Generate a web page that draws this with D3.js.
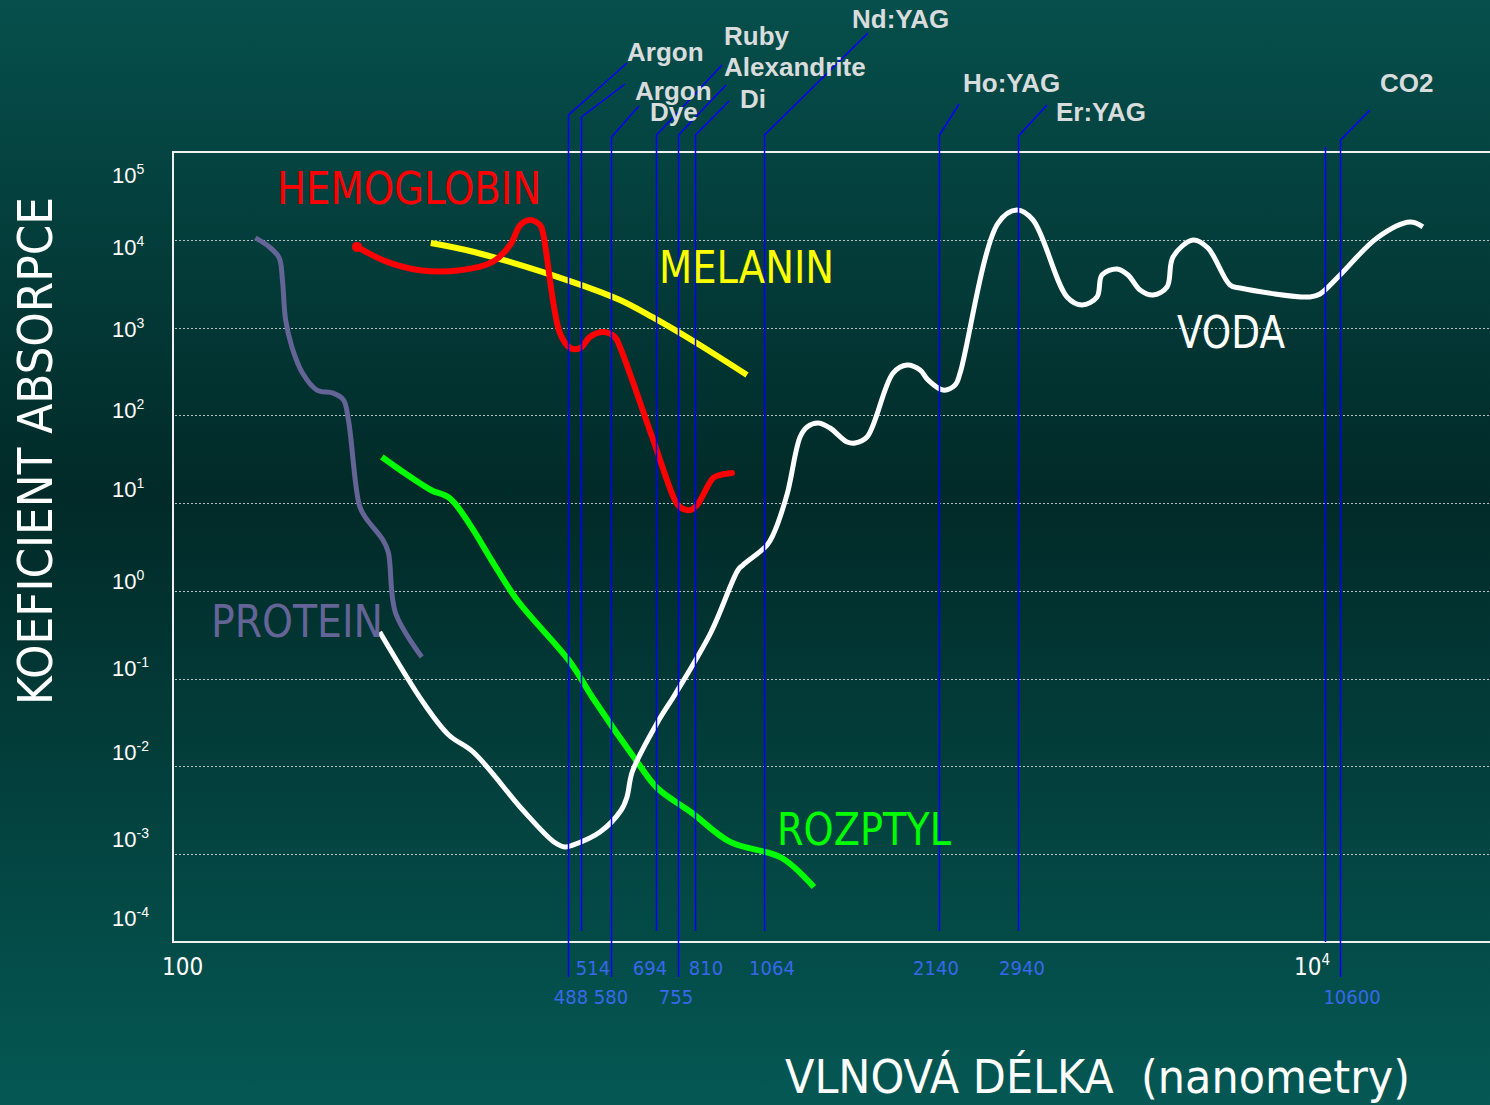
<!DOCTYPE html>
<html>
<head>
<meta charset="utf-8">
<script src="https://cdn.jsdelivr.net/npm/d3@7"></script>
<style>
  body { margin: 0; background: #033b39; }
  svg { display: block; }
  .pre { white-space: pre; }
</style>
</head>
<body>
<script>
// Data (wavelength in nm, absorption coefficient)
const yDecades = [-4, -3, -2, -1, 0, 1, 2, 3, 4, 5];
const gridDecades = [-3, -2, -1, 0, 1, 2, 3, 4];

const laserNames = ['Argon', 'Argon', 'Dye', 'Ruby', 'Alexandrite', 'Di', 'Nd:YAG', 'Ho:YAG', 'Er:YAG', 'CO2'];
const laserNm = [488, 514, 580, 694, 755, 810, 1064, 2140, 2940, 10600];

const proteinNm = [140, 148, 154, 156, 158, 162, 169, 179, 191, 199, 203, 212, 217, 233, 238, 245, 272];
const proteinAbs = [1.05e4, 8.3e3, 6.2e3, 3.5e3, 1.22e3, 600, 303, 194, 179, 150, 88.5, 9.5, 6.95, 3.8, 2.77, 0.56, 0.177];

const hemoglobinNm = [210, 237, 270, 317, 361, 387, 403, 419, 436, 441, 472, 492, 512, 532, 561, 588, 600, 685, 747, 762, 794, 816, 870, 894, 938];
const hemoglobinAbs = [8.3e3, 5.6e3, 4.5e3, 4.5e3, 5.6e3, 8.7e3, 1.47e4, 1.68e4, 1.47e4, 1.22e4, 867, 585, 585, 780, 889, 780, 600, 52.4, 10.8, 9.03, 8.34, 9.5, 19.3, 20.9, 22.0];

const melaninNm = [282, 334, 497, 600, 682, 809, 996];
const melaninAbs = [9.2e3, 7.3e3, 3.3e3, 2.06e3, 1.32e3, 684, 288];

const scatterNm = [232, 254, 282, 304, 330, 361, 398, 493, 537, 645, 696, 800, 931, 1145, 1301];
const scatterAbs = [33.5, 22, 14.1, 11.4, 5.62, 2.13, 0.787, 0.151, 0.0618, 0.0109, 0.00568, 0.00295, 0.00138, 0.000906, 0.000423];

const waterNm = [230, 274, 303, 334, 407, 461, 482, 497, 554, 603, 617, 630, 696, 750, 863, 961, 980, 1079, 1105, 1168,
  1231, 1266, 1322, 1387, 1485, 1533, 1608, 1784, 1886, 1987, 2051, 2178, 2285, 2331, 2713, 2925, 3118, 3572, 3793, 4026,
  4107, 4361, 4557, 4780, 5034, 5323, 5452, 5904, 6268, 6845, 7123, 9419, 9800, 10620, 12310, 14040, 14780];
const waterAbs = [0.34, 0.0528, 0.0228, 0.0146, 0.00319, 0.00138, 0.00121, 0.00127, 0.00179, 0.00319, 0.00449, 0.00865, 0.0313, 0.0687, 0.34, 1.73, 1.97, 3.33, 4.33, 12.4,
  56.6, 73.6, 81.7, 71.7, 49.7, 48.4, 56.6, 303, 374, 328, 253, 194, 221, 303, 1.55e4, 2.18e4, 1.68e4, 2.23e3, 1.81e3, 2.23e3,
  3.97e3, 4.65e3, 3.97e3, 2.68e3, 2.35e3, 2.9e3, 6.37e3, 9.93e3, 8.05e3, 3.06e3, 2.82e3, 2.23e3, 2.41e3, 3.97e3, 1.05e4, 1.59e4, 1.4e4];

// Layout: baselines of the y tick labels (for yDecades), in pixels
const yLabelBaselines = [926, 847, 760, 676, 589, 497, 418, 337, 255, 183];

// Layout of the laser annotations: leader kink/tip, name position, wavelength label
const leaderLayout = [
  { row: 1, kinkY: 115, tipX: 627, tipY: 63, textX: 627, textY: 61, nmX: 571 },
  { row: 0, kinkY: 117, tipX: 625, tipY: 84, textX: 635, textY: 100, nmX: 593 },
  { row: 1, kinkY: 137, tipX: 639, tipY: 106, textX: 650, textY: 121, nmX: 611 },
  { row: 0, kinkY: 135, tipX: 722, tipY: 65, textX: 724, textY: 45, nmX: 650 },
  { row: 1, kinkY: 135, tipX: 726, tipY: 85, textX: 724, textY: 76, nmX: 676 },
  { row: 0, kinkY: 135, tipX: 729, tipY: 101, textX: 740, textY: 108, nmX: 706 },
  { row: 0, kinkY: 135, tipX: 868, tipY: 33, textX: 852, textY: 28, nmX: 772 },
  { row: 0, kinkY: 135, tipX: 959, tipY: 104, textX: 963, textY: 92, nmX: 936 },
  { row: 0, kinkY: 136, tipX: 1047, tipY: 105, textX: 1056, textY: 121, nmX: 1022 },
  { row: 1, kinkY: 140, tipX: 1370, tipY: 110, textX: 1380, textY: 92, nmX: 1352 }
];

const W = 1490, H = 1105;
const plotLeft = 173, plotTop = 152, plotBottom = 942;

const x = d3.scaleLog().domain([100, 10000]).range([171, 1325]);
const y = d3.scaleLog().domain([1e-4, 1e5]).range([plotBottom, plotTop]);

const svg = d3.select('body').append('svg')
  .attr('width', W)
  .attr('height', H);

// Background gradient
const grad = svg.append('defs').append('linearGradient')
  .attr('id', 'bg')
  .attr('x1', 0).attr('y1', 0).attr('x2', 0).attr('y2', 1);
grad.append('stop').attr('offset', '0%').attr('stop-color', '#064f4c');
grad.append('stop').attr('offset', '45%').attr('stop-color', '#012a28');
grad.append('stop').attr('offset', '100%').attr('stop-color', '#055854');

svg.append('rect')
  .attr('width', W)
  .attr('height', H)
  .attr('fill', 'url(#bg)');

// Dotted grid
svg.append('g')
  .selectAll('line')
  .data(gridDecades)
  .enter()
  .append('line')
  .attr('x1', plotLeft + 2)
  .attr('x2', W)
  .attr('y1', d => Math.round(y(Math.pow(10, d))) + 0.5)
  .attr('y2', d => Math.round(y(Math.pow(10, d))) + 0.5)
  .attr('stroke', '#b8c4c4')
  .attr('stroke-width', 1)
  .attr('stroke-dasharray', '2,2');

// Plot frame
svg.append('path')
  .attr('d', `M${W + 5},${plotTop} H${plotLeft} V${plotBottom} H${W + 5}`)
  .attr('fill', 'none')
  .attr('stroke', '#f0f0f0')
  .attr('stroke-width', 2);

// Y tick labels
const yt = svg.append('g')
  .attr('font-family', 'Liberation Sans, Arial, sans-serif')
  .attr('fill', '#ffffff')
  .selectAll('text')
  .data(yDecades)
  .enter()
  .append('text')
  .attr('x', 112)
  .attr('y', (d, i) => yLabelBaselines[i])
  .attr('font-size', 22);
yt.append('tspan').text('10');
yt.append('tspan')
  .attr('font-size', 14)
  .attr('dy', -9)
  .text(d => d);

// X axis labels
svg.append('text')
  .attr('x', x(100) - 9)
  .attr('y', 975)
  .attr('font-family', 'DejaVu Sans Condensed, DejaVu Sans, sans-serif')
  .attr('font-size', 24)
  .attr('fill', '#ffffff')
  .text('100');

const x4 = svg.append('text')
  .attr('x', x(10000) - 31)
  .attr('y', 975)
  .attr('font-family', 'DejaVu Sans Condensed, DejaVu Sans, sans-serif')
  .attr('font-size', 24)
  .attr('fill', '#ffffff');
x4.append('tspan').text('10');
x4.append('tspan').attr('font-size', 15).attr('dy', -10).text('4');

// Curves
const line = d3.line()
  .x(d => x(d[0]))
  .y(d => y(d[1]))
  .curve(d3.curveCatmullRom.alpha(0.5));

const curves = [
  { nm: proteinNm, abs: proteinAbs, color: '#646496', width: 5, cap: 'butt' },
  { nm: scatterNm, abs: scatterAbs, color: '#00ff00', width: 6, cap: 'butt' },
  { nm: waterNm, abs: waterAbs, color: '#ffffff', width: 5, cap: 'butt' },
  { nm: melaninNm, abs: melaninAbs, color: '#ffff00', width: 6, cap: 'butt' },
  { nm: hemoglobinNm, abs: hemoglobinAbs, color: '#ff0000', width: 6, cap: 'round' }
];

svg.append('g')
  .selectAll('path')
  .data(curves)
  .enter()
  .append('path')
  .attr('d', c => line(c.nm.map((v, i) => [v, c.abs[i]])))
  .attr('fill', 'none')
  .attr('stroke', c => c.color)
  .attr('stroke-width', c => c.width)
  .attr('stroke-linecap', c => c.cap)
  .attr('stroke-linejoin', 'round');

svg.append('circle')
  .attr('cx', x(hemoglobinNm[0]))
  .attr('cy', y(hemoglobinAbs[0]))
  .attr('r', 5)
  .attr('fill', '#ff0000');

// Laser lines
const lasers = laserNm.map((nm, i) => ({ nm: nm, name: laserNames[i], lay: leaderLayout[i] }));

const lg = svg.append('g');
lg.selectAll('path')
  .data(lasers)
  .enter()
  .append('path')
  .attr('d', d => {
    const lx = Math.round(x(d.nm)) + 0.5;
    const yEnd = d.lay.row ? 977 : 931;
    return `M${lx},${yEnd} V${d.lay.kinkY} L${d.lay.tipX},${d.lay.tipY}`;
  })
  .attr('fill', 'none')
  .attr('stroke', '#0000ff')
  .attr('stroke-width', 1.5);

// 10^4 marker line
lg.append('line')
  .attr('x1', Math.round(x(10000)) + 0.5)
  .attr('x2', Math.round(x(10000)) + 0.5)
  .attr('y1', 147)
  .attr('y2', plotBottom)
  .attr('stroke', '#0000ff')
  .attr('stroke-width', 1.5);

// Laser names
lg.selectAll('text.name')
  .data(lasers)
  .enter()
  .append('text')
  .attr('class', 'name')
  .attr('x', d => d.lay.textX)
  .attr('y', d => d.lay.textY)
  .attr('font-family', 'Liberation Sans, Arial, sans-serif')
  .attr('font-weight', 'bold')
  .attr('font-size', 26)
  .attr('fill', '#d9dcdc')
  .text(d => d.name);

// Wavelength labels
lg.selectAll('text.nm')
  .data(lasers)
  .enter()
  .append('text')
  .attr('class', 'nm')
  .attr('x', d => d.lay.nmX)
  .attr('y', d => d.lay.row ? 1004 : 975)
  .attr('text-anchor', 'middle')
  .attr('font-family', 'DejaVu Sans Condensed, DejaVu Sans, sans-serif')
  .attr('font-size', 20)
  .attr('fill', '#3768ea')
  .text(d => d.nm);

// Curve titles
const titles = [
  { text: 'HEMOGLOBIN', x: 277, y: 204, len: 264, color: '#ff0000' },
  { text: 'MELANIN', x: 659, y: 283, len: 175, color: '#ffff00' },
  { text: 'VODA', x: 1177, y: 348, len: 108, color: '#ffffff' },
  { text: 'PROTEIN', x: 211, y: 637, len: 172, color: '#646496' },
  { text: 'ROZPTYL', x: 777, y: 845, len: 174, color: '#00ff00' }
];

svg.append('g')
  .selectAll('text')
  .data(titles)
  .enter()
  .append('text')
  .attr('x', d => d.x)
  .attr('y', d => d.y)
  .attr('textLength', d => d.len)
  .attr('lengthAdjust', 'spacingAndGlyphs')
  .attr('font-family', 'DejaVu Sans Condensed, DejaVu Sans, sans-serif')
  .attr('font-size', 44)
  .attr('fill', d => d.color)
  .text(d => d.text);

// Axis titles
svg.append('text')
  .attr('transform', 'translate(52,705) rotate(-90)')
  .attr('textLength', 508)
  .attr('lengthAdjust', 'spacingAndGlyphs')
  .attr('font-family', 'DejaVu Sans Condensed, DejaVu Sans, sans-serif')
  .attr('font-size', 48)
  .attr('fill', '#ffffff')
  .text('KOEFICIENT ABSORPCE');

svg.append('text')
  .attr('class', 'pre')
  .attr('x', 785)
  .attr('y', 1093)
  .attr('textLength', 625)
  .attr('lengthAdjust', 'spacingAndGlyphs')
  .attr('font-family', 'DejaVu Sans Condensed, DejaVu Sans, sans-serif')
  .attr('font-size', 47)
  .attr('fill', '#ffffff')
  .text('VLNOVÁ DÉLKA  (nanometry)');
</script>
</body>
</html>
